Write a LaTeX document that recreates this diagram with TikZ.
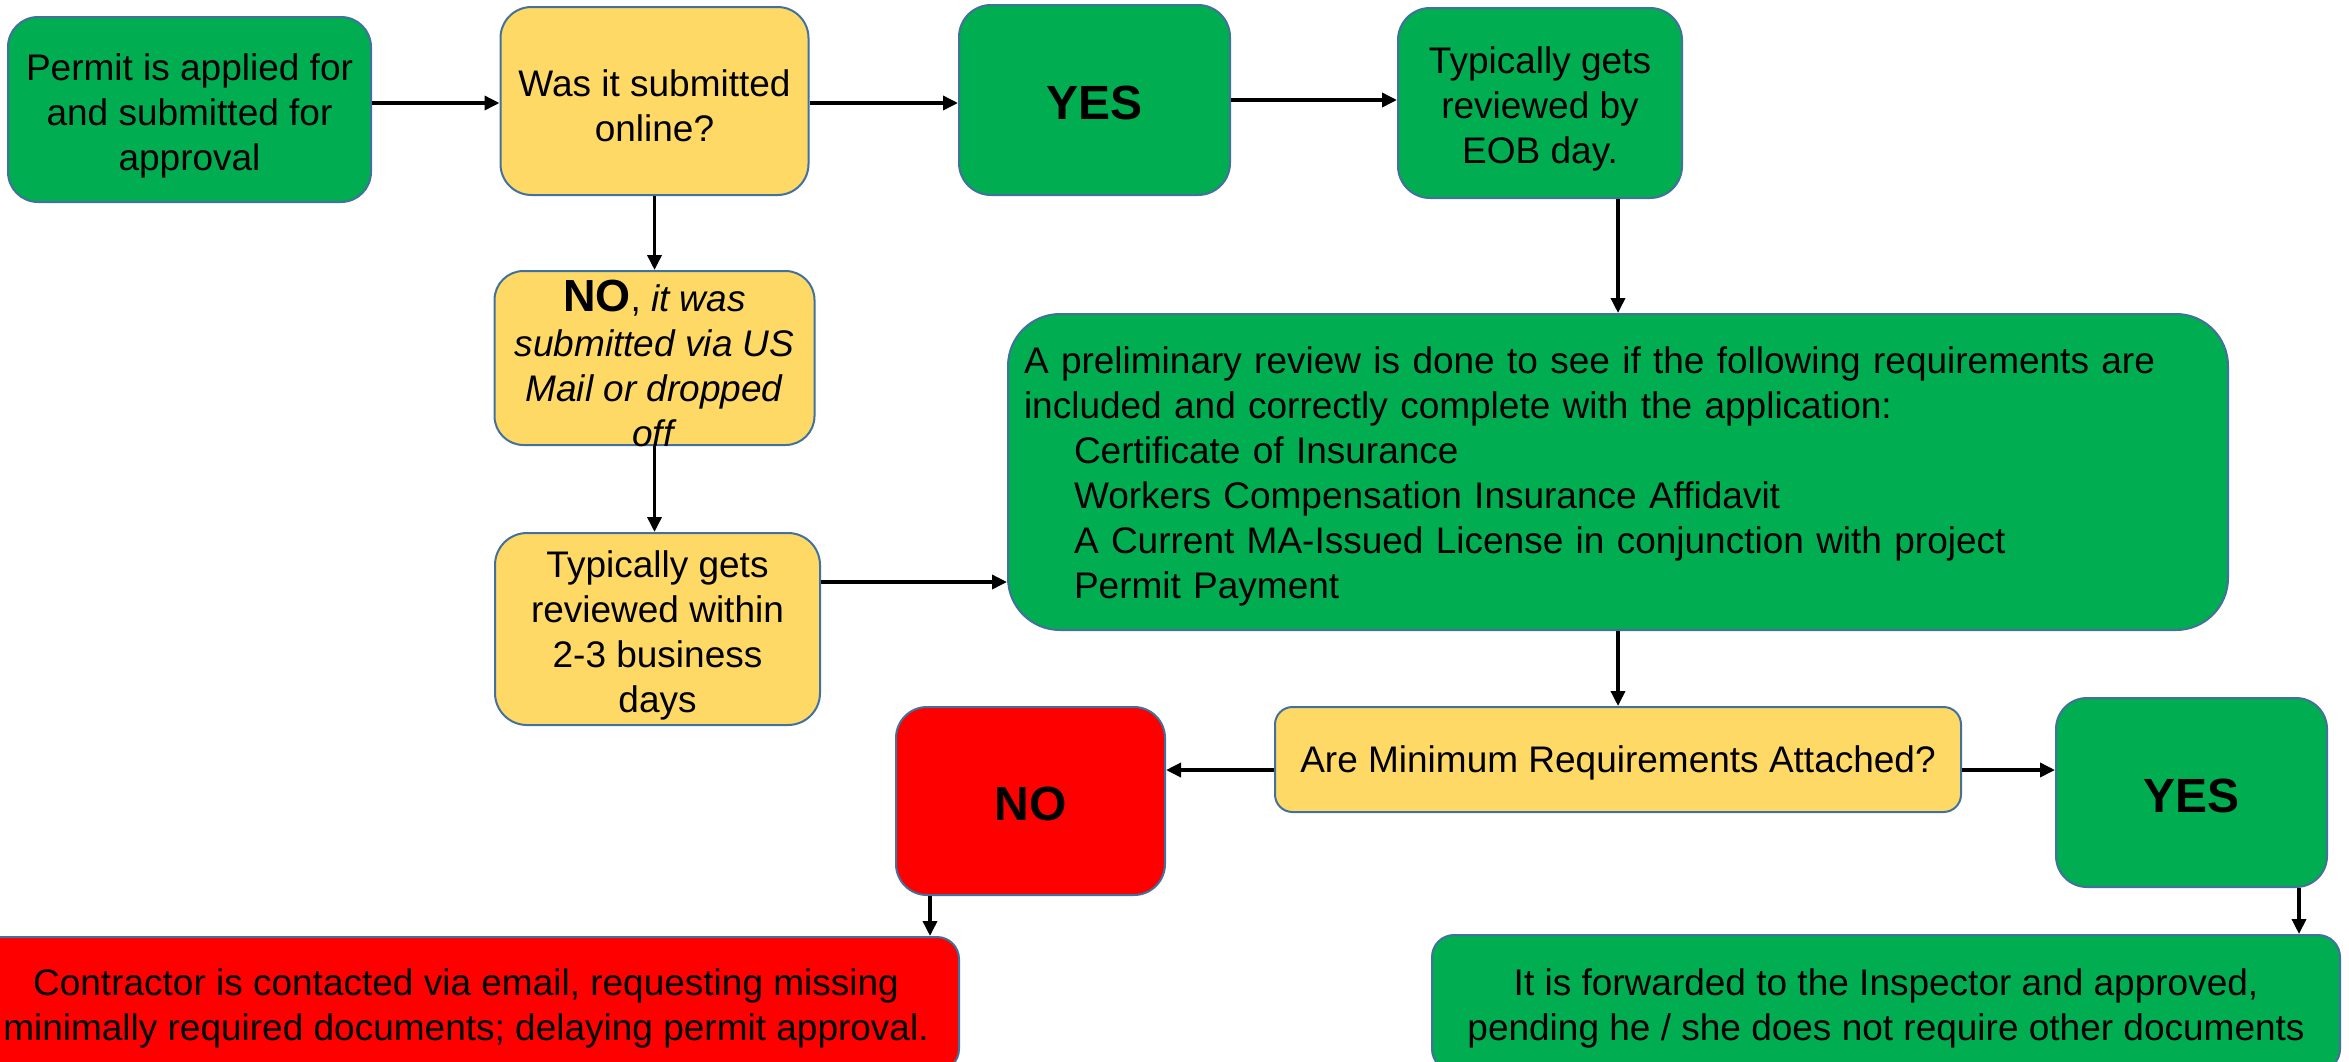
\documentclass[tikz,border=0pt]{standalone}
\usepackage{fontspec}
\setmainfont{Liberation Sans}
\usetikzlibrary{arrows.meta}
\definecolor{gr}{HTML}{00AD50}
\definecolor{ye}{HTML}{FFD966}
\definecolor{rd}{HTML}{FF0000}
\definecolor{bordc}{HTML}{41719C}
\newcommand\regf{\fontsize{37}{45}\selectfont}
\newcommand\bigb{\fontsize{48}{56}\selectfont\bfseries}
\newcommand\tstrut[1]{\rule{0pt}{#1}}
\tikzset{
  box/.style={draw=bordc, line width=2pt, rounded corners=#1, inner sep=0pt, align=center, font=\regf, text=black},
  arr/.style={line width=3.5pt, -{Triangle[length=15pt,width=14pt]}},
}
\begin{document}
\begin{tikzpicture}[x=1pt,y=-1pt]
\useasboundingbox (0,0) rectangle (2349,1061);
\clip (0,0) rectangle (2349,1061);
\node[box=30, fill=gr, minimum width=363, minimum height=185] (b1) at (189.5,109.5) {\tstrut{39pt}Permit is applied for\\and submitted for\\approval};
\node[box=31, fill=ye, minimum width=308, minimum height=188] (b2) at (654.5,101) {\tstrut{36pt}Was it submitted\\online?};
\node[box=32, fill=gr, minimum width=271, minimum height=190] (yes1) at (1094.5,100) {\bigb\tstrut{40pt}YES};
\node[box=32, fill=gr, minimum width=284, minimum height=190] (eob) at (1540,103) {\tstrut{39pt}Typically gets\\reviewed by\\EOB day.};
\node[box=29, fill=ye, minimum width=313, minimum height=174] (no1) at (654.5,358)
  {\raisebox{-12pt}[0pt][0pt]{\parbox[c]{320pt}{\centering\regf{\fontsize{45}{45}\selectfont\bfseries NO}, \textit{it was}\\ \textit{submitted via US}\\ \textit{Mail or dropped}\\ \textit{off}}}};
\node[box=32, fill=ye, minimum width=325, minimum height=192] (typ) at (657.5,629) {\tstrut{39pt}Typically gets\\reviewed within\\2-3 business\\days};
\node[box=52, fill=gr, minimum height=316, text width=1188pt, inner xsep=16pt, align=left] (big) at (1618,472)
  {\tstrut{36pt}A preliminary review is done to see if the following requirements are\\
   included and correctly complete with the application:\\
   \hspace*{50pt}Certificate of Insurance\\
   \hspace*{50pt}Workers Compensation Insurance Affidavit\\
   \hspace*{50pt}A Current MA-Issued License in conjunction with project\\
   \hspace*{50pt}Permit Payment};
\node[box=17.5, fill=ye, minimum width=686, minimum height=105] (amin) at (1618,759.5) {\tstrut{33pt}Are Minimum Requirements Attached?};
\node[box=31, fill=rd, minimum width=269, minimum height=188] (nored) at (1030.5,801) {\bigb\tstrut{40pt}NO};
\node[box=31, fill=gr, minimum width=271, minimum height=189] (yesr) at (2191.5,792.5) {\bigb\tstrut{40pt}YES};
\node[box=22, fill=rd, minimum width=986, minimum height=134] (contr) at (466,1004) {\tstrut{35pt}Contractor is contacted via email, requesting missing\\minimally required documents; delaying permit approval.};
\node[box=22, fill=gr, minimum width=908, minimum height=136] (fwd) at (1886,1003) {\tstrut{37pt}It is forwarded to the Inspector and approved,\\pending he / she does not require other documents};

\draw[arr] (b1.east |- 0,103) -- (b2.west |- 0,103);
\draw[arr] (b2.east |- 0,103) -- (yes1.west |- 0,103);
\draw[arr] (yes1.east |- 0,100) -- (eob.west |- 0,100);
\draw[arr] (b2.south) -- (no1.north);
\draw[arr] (eob.south -| big.north) -- (big.north);
\draw[arr] (no1.south) -- (no1.south |- typ.north);
\draw[arr] (typ.east |- 0,582) -- (big.west |- 0,582);
\draw[arr] (big.south) -- (amin.north);
\draw[arr] (amin.west |- 0,770) -- (nored.east |- 0,770);
\draw[arr] (amin.east |- 0,770) -- (yesr.west |- 0,770);
\draw[arr] (nored.south -| 930,0) -- (contr.north -| 930,0);
\draw[arr] (yesr.south -| 2299,0) -- (fwd.north -| 2299,0);
\end{tikzpicture}
\end{document}
